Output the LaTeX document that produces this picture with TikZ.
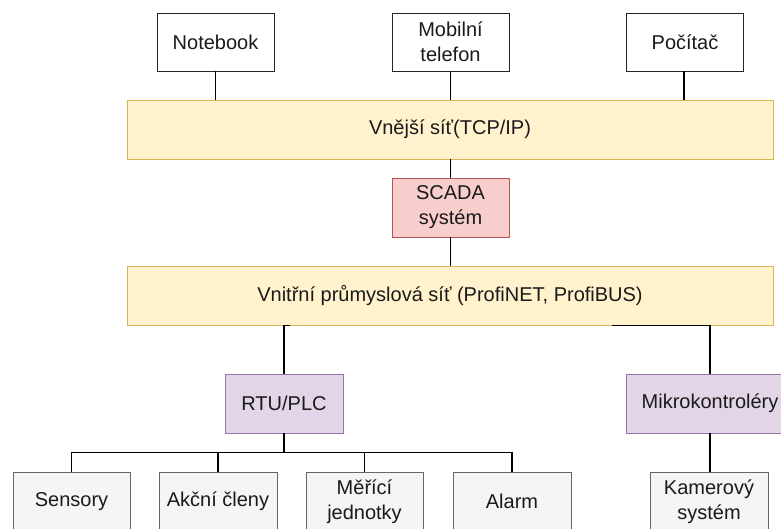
\documentclass[tikz,border=0pt]{standalone}
\usepackage{fontspec}
\setmainfont{Liberation Sans}
\definecolor{bandfill}{HTML}{FFF2CC}
\definecolor{banddraw}{HTML}{D6B656}
\definecolor{redfill}{HTML}{F8CECC}
\definecolor{reddraw}{HTML}{B85450}
\definecolor{purplefill}{HTML}{E1D5E7}
\definecolor{purpledraw}{HTML}{9673A6}
\definecolor{grayfill}{HTML}{F5F5F5}
\definecolor{graydraw}{HTML}{666666}
\definecolor{txt}{HTML}{1A1A1A}
\begin{document}
\begin{tikzpicture}[x=1pt,y=-1pt,
  every node/.style={font=\fontsize{20}{25}\selectfont, text=txt, align=center, inner sep=0pt},
  basebox/.style={draw, line width=0.8pt, minimum width=117pt, minimum height=58pt},
  devbox/.style={basebox, fill=white, draw=black!85},
  bandbox/.style={basebox, fill=bandfill, draw=banddraw, minimum width=646pt, minimum height=59pt},
  scadabox/.style={basebox, fill=redfill, draw=reddraw, minimum height=59pt},
  ctrlbox/.style={basebox, fill=purplefill, draw=purpledraw, minimum width=118pt, minimum height=59pt},
  fieldbox/.style={basebox, fill=grayfill, draw=graydraw, minimum height=59pt},
  link/.style={draw=black, line width=1.1pt}
]
\clip (0,0) rectangle (781,529);

% end devices on the outer network
\node[devbox] (nb)  at (215.5,42) {Notebook};
\node[devbox] (mob) at (450.5,42) {Mobilní\\telefon};
\node[devbox] (pc)  at (685,42)   {Počítač};

% networks and supervisory level
\node[bandbox]  (ext)   at (450,129.5)   {Vnější síť(TCP/IP)};
\node[scadabox] (scada) at (450.5,207.5) {SCADA\\systém};
\node[bandbox]  (int)   at (450,295.5)   {Vnitřní průmyslová síť (ProfiNET, ProfiBUS)};

% control level
\node[ctrlbox] (rtu) at (284,403.5) {RTU/PLC};
\node[ctrlbox, minimum width=168pt] (mcu) at (710,403.5) {Mikrokontroléry};

% field level
\node[fieldbox] (sen) at (71.5,501.5) {Sensory};
\node[fieldbox, minimum width=118pt] (akc) at (218,501.5) {Akční členy};
\node[fieldbox] (mer) at (364.5,501.5) {Měřící\\jednotky};
\node[fieldbox, minimum width=118pt] (alm) at (512,501.5) {Alarm};
\node[fieldbox, minimum width=118pt] (cam) at (709,501.5) {Kamerový\\systém};

% connectors
\draw[link] (nb.south) -- (nb.south |- ext.north);
\draw[link] (mob.south) -- (mob.south |- ext.north);
\draw[link] ([xshift=-1pt]pc.south) -- ([xshift=-1pt]pc.south |- ext.north);
\draw[link] (ext.south -| scada.north) -- (scada.north);
\draw[link] (scada.south) -- (scada.south |- int.north);
\draw[link] ([xshift=6pt]rtu.north |- int.south) -- (rtu.north |- int.south) -- (rtu.north);
\draw[link] ([xshift=-98pt]mcu.north |- int.south) -- (mcu.north |- int.south) -- (mcu.north);
\foreach \f in {sen,akc,mer,alm}
  \draw[link] (rtu.south) -- ++(0,19) -| (\f.north);
\draw[link] (mcu.south) -- (mcu.south |- cam.north);
\end{tikzpicture}
\end{document}
